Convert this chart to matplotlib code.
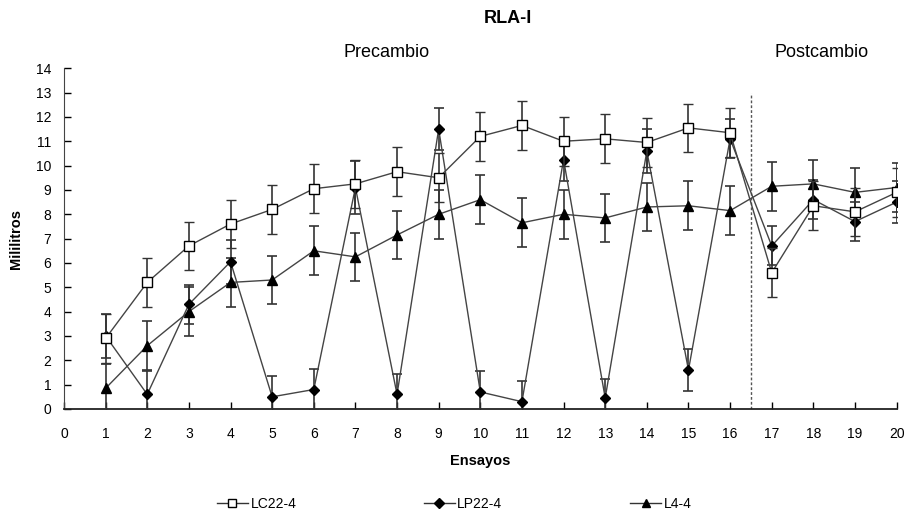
import matplotlib
matplotlib.use("Agg")
import matplotlib.pyplot as plt
from matplotlib.lines import Line2D

# datos
ensayos = list(range(1, 21))
lc22 = [2.9, 5.2, 6.7, 7.6, 8.2, 9.05, 9.25, 9.75, 9.5, 11.2,
        11.65, 11.0, 11.1, 10.95, 11.55, 11.35, 5.6, 8.35, 8.1, 8.9]
lc22_err = [1.0, 1.0, 1.0, 1.0, 1.0, 1.0, 1.0, 1.0, 1.0, 1.0,
            1.0, 1.0, 1.0, 1.0, 1.0, 1.0, 1.0, 1.0, 1.0, 1.0]
lp22 = [3.0, 0.6, 4.3, 6.05, 0.5, 0.8, 9.1, 0.6, 11.5, 0.7,
        0.3, 10.25, 0.45, 10.6, 1.6, 11.1, 6.7, 8.6, 7.7, 8.5]
lp22_err = [0.9, 0.95, 0.8, 0.9, 0.85, 0.85, 1.1, 0.85, 0.85, 0.85,
            0.85, 0.9, 0.8, 0.9, 0.85, 0.8, 0.8, 0.8, 0.8, 0.85]
l44 = [0.85, 2.6, 4.0, 5.2, 5.3, 6.5, 6.25, 7.15, 8.0, 8.6,
       7.65, 8.0, 7.85, 8.3, 8.35, 8.15, 9.15, 9.25, 8.9, 9.1]
l44_err = [1.0, 1.0, 1.0, 1.0, 1.0, 1.0, 1.0, 1.0, 1.0, 1.0,
           1.0, 1.0, 1.0, 1.0, 1.0, 1.0, 1.0, 1.0, 1.0, 1.0]

plt.rcParams['font.family'] = ['Liberation Sans', 'DejaVu Sans']

fig = plt.figure(figsize=(9.14, 5.21), dpi=100)
ax = fig.add_axes([0.070, 0.215, 0.911, 0.654])

eb_kw = dict(ecolor='#333333', elinewidth=1.2, capsize=3.5, capthick=1.2, lw=1.0, color='#444444')
ax.errorbar(ensayos, lc22, yerr=lc22_err, marker='s', ms=6.5, mfc='white', mec='black',
            mew=1.0, zorder=4, **eb_kw)
ax.errorbar(ensayos, lp22, yerr=lp22_err, marker='D', ms=5, mfc='black', mec='black',
            zorder=3, **eb_kw)
ax.errorbar(ensayos, l44, yerr=l44_err, marker='^', ms=6.5, mfc='black', mec='black',
            zorder=3, **eb_kw)

# linea de cambio
ax.plot([16.5, 16.5], [0, 13.0], color='#555555', lw=1.0, ls=(0, (2, 1.5)))

ax.set_xlim(0, 20)
ax.set_ylim(0, 14)
ax.set_xticks(range(0, 21))
ax.set_yticks(range(0, 15))
ax.tick_params(direction='in', length=5, labelsize=10, width=1)
ax.tick_params(axis='x', pad=13)
ax.tick_params(axis='y', pad=9)
ax.spines['top'].set_visible(False)
ax.spines['right'].set_visible(False)
ax.spines['left'].set_color('#444444')
ax.spines['bottom'].set_color('#222222')
ax.spines['bottom'].set_linewidth(1.3)

ax.set_xlabel('Ensayos', fontsize=10.5, fontweight='bold', labelpad=9)
ax.set_ylabel('Mililitros', fontsize=10.5, fontweight='bold', labelpad=9)

ax.text(7.75, 14.65, 'Precambio', fontsize=13, ha='center', va='center')
ax.text(18.2, 14.65, 'Postcambio', fontsize=13, ha='center', va='center')
fig.text(0.556, 0.965, 'RLA-I', fontsize=13, fontweight='bold', ha='center', va='center')

handles = [
    Line2D([], [], color='#333333', lw=1.0, marker='s', ms=6, mfc='white', mec='black'),
    Line2D([], [], color='#333333', lw=1.0, marker='D', ms=5, mfc='black', mec='black'),
    Line2D([], [], color='#333333', lw=1.0, marker='^', ms=6, mfc='black', mec='black'),
]
fig.legend(handles, ['LC22-4', 'LP22-4', 'L4-4'], loc='lower center',
           bbox_to_anchor=(0.497, -0.005), ncol=3, frameon=False,
           fontsize=10, columnspacing=9.2, handlelength=2.2, handletextpad=0.2)

plt.savefig('out.png', dpi=100)
